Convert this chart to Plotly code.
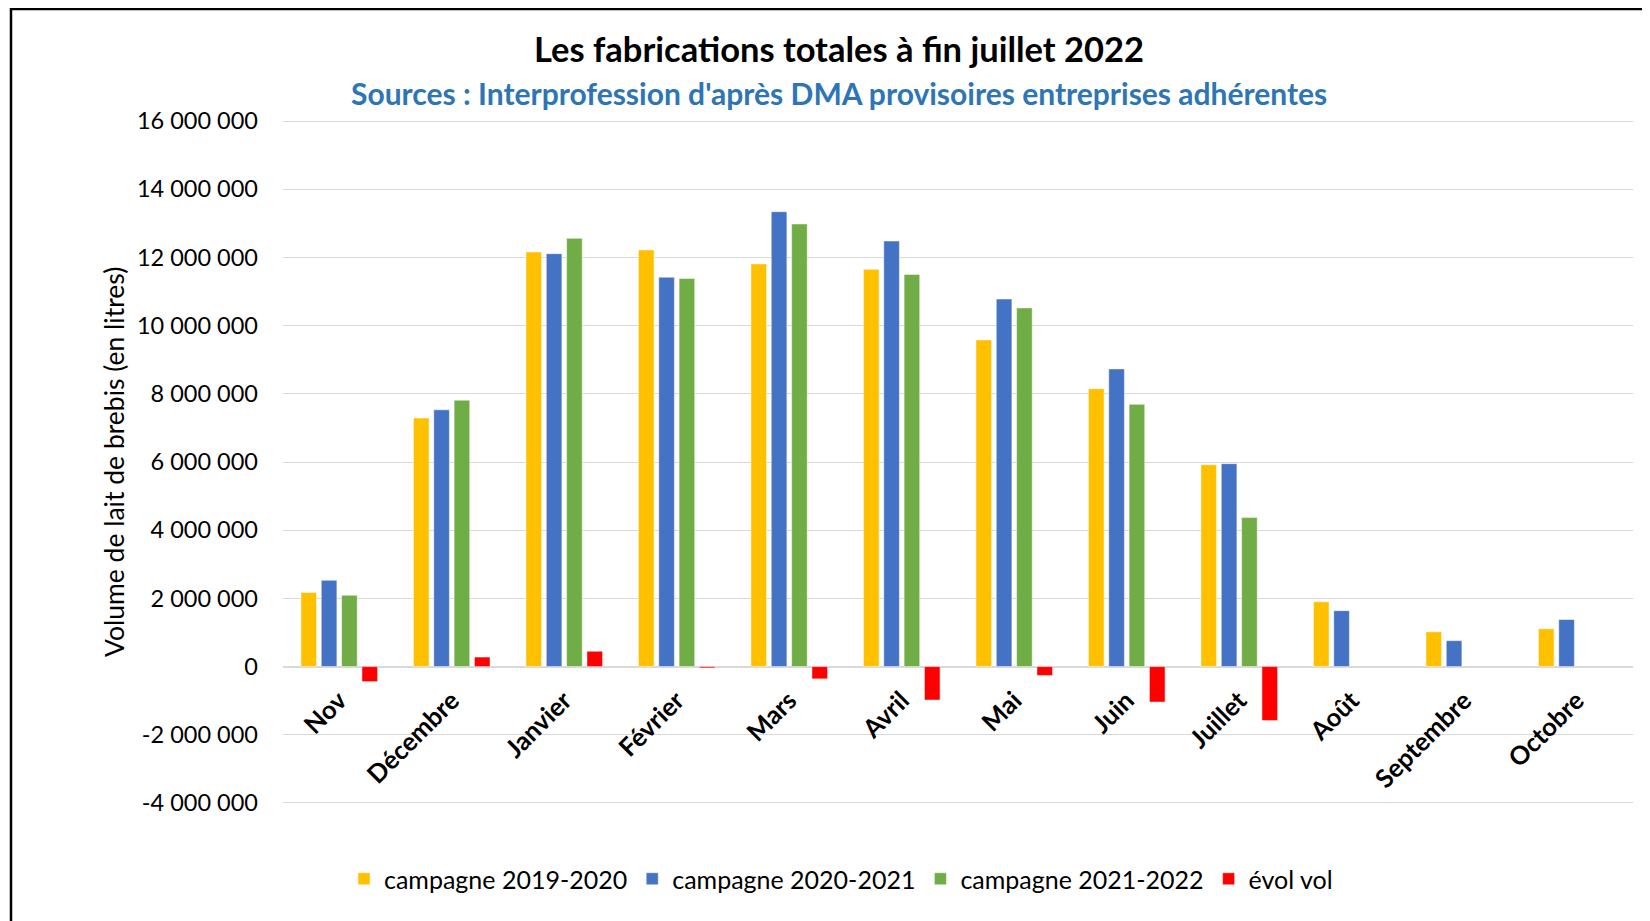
import plotly.graph_objects as go

months = ["Nov", "Décembre", "Janvier", "Février", "Mars", "Avril", "Mai",
          "Juin", "Juillet", "Août", "Septembre", "Octobre"]
camp_2019_2020 = [2170000, 7290000, 12160000, 12220000, 11810000, 11650000, 9580000,
                  8150000, 5920000, 1900000, 1020000, 1110000]
camp_2020_2021 = [2530000, 7530000, 12110000, 11420000, 13340000, 12480000, 10780000,
                  8730000, 5950000, 1640000, 760000, 1380000]
camp_2021_2022 = [2090000, 7810000, 12560000, 11380000, 12980000, 11500000, 10520000,
                  7690000, 4370000, None, None, None]
evol_vol = [-440000, 280000, 450000, -40000, -360000, -980000, -260000,
            -1040000, -1580000, None, None, None]

y_tickvals = [-4000000, -2000000, 0, 2000000, 4000000, 6000000, 8000000,
              10000000, 12000000, 14000000, 16000000]
y_ticktext = ["-4 000 000", "-2 000 000", "0", "2 000 000", "4 000 000", "6 000 000",
              "8 000 000", "10 000 000", "12 000 000", "14 000 000", "16 000 000"]

title_text = "Les fabrications totales à fin juillet 2022"
subtitle_text = "Sources : Interprofession d'après DMA provisoires entreprises adhérentes"
y_title = "Volume de lait de brebis (en litres)"

FONT = "Lato"
OFF = 8                      # page body margin
FW, FH = 1650 - OFF, 921 - OFF
Y_MIN, Y_MAX = -4030000, 16030000
L, R, T, B = 275, 17, 112, 117
PW, PH = FW - L - R, FH - T - B


def px_x(page_x):
    return (page_x - OFF - L) / PW


def px_y(page_y):
    return (FH - B - (page_y - OFF)) / PH


series = [
    ("campagne 2019-2020", camp_2019_2020, "#FFC000"),
    ("campagne 2020-2021", camp_2020_2021, "#4472C4"),
    ("campagne 2021-2022", camp_2021_2022, "#70AD47"),
    ("évol vol", evol_vol, "#FF0000"),
]

fig = go.Figure()
for name, vals, col in series:
    fig.add_trace(go.Bar(
        x=months, y=vals, name=name,
        marker=dict(color=col, line=dict(color="rgba(255,255,255,0.6)", width=0.8)),
    ))

fig.update_layout(
    width=FW, height=FH,
    margin=dict(l=L, r=R, t=T, b=B, pad=0),
    paper_bgcolor="white", plot_bgcolor="white",
    barmode="group", bargap=0.277, bargroupgap=0.233,
    font=dict(family=FONT, size=23.5, color="black"),
    showlegend=True,
    legend=dict(orientation="h", x=px_x(841), xanchor="center",
                y=px_y(879), yanchor="middle",
                font=dict(family=FONT, size=25, color="black"),
                itemwidth=30, tracegroupgap=0),
    xaxis=dict(
        type="category", anchor="free", position=(0 - Y_MIN) / (Y_MAX - Y_MIN),
        showline=False, ticks="", tickangle=-45,
        tickfont=dict(family=FONT, size=25.5, color="black", weight="bold"),
        showgrid=False, ticklabelstandoff=13,
    ),
    yaxis=dict(
        range=[Y_MIN, Y_MAX],
        tickvals=y_tickvals, ticktext=y_ticktext,
        showgrid=True, gridcolor="#D9D9D9", gridwidth=1.4,
        zeroline=True, zerolinecolor="#D9D9D9", zerolinewidth=1.6,
        showline=False, ticks="",
        tickfont=dict(family=FONT, size=23.5, color="black"),
        ticklabelstandoff=24,
    ),
    annotations=[
        dict(text="<b>" + title_text + "</b>", xref="paper", yref="paper",
             x=px_x(839), y=px_y(49), xanchor="center", yanchor="middle",
             showarrow=False, font=dict(family=FONT, size=34.5, color="black")),
        dict(text="<b>" + subtitle_text + "</b>", xref="paper", yref="paper",
             x=px_x(839), y=px_y(93), xanchor="center", yanchor="middle",
             showarrow=False, font=dict(family=FONT, size=30, color="#2E75B6")),
        dict(text=y_title, xref="paper", yref="paper",
             x=px_x(114), y=px_y(462), xanchor="center", yanchor="middle",
             textangle=-90, showarrow=False,
             font=dict(family=FONT, size=26.5, color="black")),
    ],
    shapes=[
        dict(type="rect", xref="paper", yref="paper",
             x0=px_x(11), x1=px_x(1665), y0=px_y(940), y1=px_y(9),
             line=dict(color="black", width=2.5), fillcolor="rgba(0,0,0,0)",
             layer="above"),
    ],
)

fig.write_html("out.html")
